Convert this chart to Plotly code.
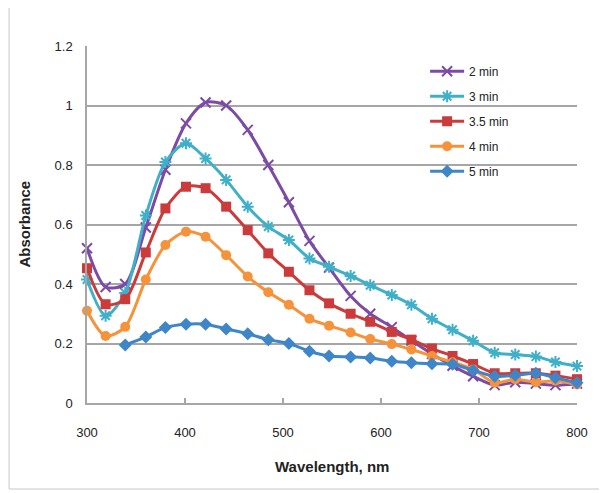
import plotly.graph_objects as go

wavelength = [300, 319, 339, 360, 380, 401, 421, 442, 464, 485, 506, 527, 547,
              569, 589, 611, 631, 652, 673, 694, 716, 737, 758, 778, 800]

abs_2min = [0.52, 0.39, 0.40, 0.59, 0.784, 0.94, 1.01, 1.0, 0.918, 0.80, 0.675, 0.545, 0.455,
            0.36, 0.30, 0.255, 0.21, 0.165, 0.125, 0.09, 0.06, 0.07, 0.065, 0.06, 0.065]
abs_3min = [0.415, 0.293, 0.37, 0.63, 0.81, 0.873, 0.822, 0.75, 0.66, 0.593, 0.548, 0.486, 0.458,
            0.427, 0.396, 0.363, 0.33, 0.283, 0.246, 0.209, 0.169, 0.163, 0.156, 0.138, 0.124]
abs_35min = [0.453, 0.332, 0.349, 0.506, 0.654, 0.727, 0.722, 0.66, 0.581, 0.503, 0.441, 0.379, 0.335,
             0.30, 0.273, 0.239, 0.213, 0.183, 0.158, 0.131, 0.10, 0.10, 0.10, 0.092, 0.08]
abs_4min = [0.31, 0.225, 0.256, 0.415, 0.531, 0.576, 0.559, 0.497, 0.425, 0.372, 0.33, 0.283, 0.26,
            0.237, 0.215, 0.198, 0.18, 0.158, 0.137, 0.113, 0.068, 0.08, 0.07, 0.075, 0.062]
abs_5min = [None, None, 0.195, 0.222, 0.254, 0.265, 0.265, 0.249, 0.233, 0.213, 0.2, 0.174, 0.158,
            0.155, 0.151, 0.14, 0.135, 0.132, 0.13, 0.11, 0.09, 0.093, 0.1, 0.085, 0.068]

series_names = ["2 min", "3 min", "3.5 min", "4 min", "5 min"]
series_values = [abs_2min, abs_3min, abs_35min, abs_4min, abs_5min]
colors = ["#7B4BA6", "#3FB0C8", "#CC3B3B", "#F5923A", "#3E86C8"]
symbols = ["x-thin", "asterisk", "square", "circle", "diamond"]
sizes = [10, 10, 10, 10, 10]

y_ticks = [0, 0.2, 0.4, 0.6, 0.8, 1.0, 1.2]
y_tick_text = ["0", "0.2", "0.4", "0.6", "0.8", "1", "1.2"]
x_ticks = [300, 400, 500, 600, 700, 800]

fig = go.Figure()
for name, vals, col, sym, sz in zip(series_names, series_values, colors, symbols, sizes):
    open_sym = sym in ("x-thin", "asterisk")
    fig.add_trace(go.Scatter(
        x=wavelength, y=vals, name=name, mode="lines+markers",
        line=dict(color=col, width=3, shape="spline", smoothing=0.8),
        marker=dict(symbol=sym, size=sz, color=col,
                    line=dict(color=col, width=2 if open_sym else 0)),
        cliponaxis=False, connectgaps=False, legendgroup=name,
    ))

font_family = "Liberation Sans, Arial, sans-serif"
fig.update_layout(
    width=599, height=485,
    margin=dict(l=79, r=30, t=38, b=90),
    paper_bgcolor="white", plot_bgcolor="white",
    font=dict(family=font_family, color="#222222"),
    showlegend=True,
    legend=dict(x=0.69, y=0.97, xanchor="left", yanchor="top",
                bgcolor="rgba(0,0,0,0)", font=dict(size=12, family=font_family),
                tracegroupgap=6, itemwidth=34),
    xaxis=dict(range=[300, 800], tickvals=x_ticks, showgrid=False,
               showline=True, linecolor="#A6A6A6", linewidth=1.5,
               ticks="inside", ticklen=5, tickcolor="#A6A6A6", tickwidth=1.5,
               tickfont=dict(size=13), ticklabelstandoff=17, zeroline=False),
    yaxis=dict(range=[0, 1.2], tickvals=y_ticks, ticktext=y_tick_text,
               showgrid=True, gridcolor="#A6A6A6", gridwidth=1.5,
               showline=True, linecolor="#A6A6A6", linewidth=1.5,
               ticks="", tickfont=dict(size=13), ticklabelstandoff=10, zeroline=False),
    annotations=[
        dict(text="<b>Wavelength, nm</b>", xref="paper", yref="paper", x=0.5, y=0,
             yshift=-63, showarrow=False, font=dict(size=15), xanchor="center", yanchor="middle"),
        dict(text="<b>Absorbance</b>", xref="paper", yref="paper", x=0, y=0.5,
             xshift=-63, showarrow=False, font=dict(size=15), textangle=-90,
             xanchor="center", yanchor="middle"),
    ],
    shapes=[dict(type="rect", xref="paper", yref="paper",
                 x0=-0.159, x1=1.053, y0=-0.241, y1=1.12,
                 line=dict(color="#C8C8C8", width=1), fillcolor="rgba(0,0,0,0)", layer="above")],
)

fig.write_html("out.html")
